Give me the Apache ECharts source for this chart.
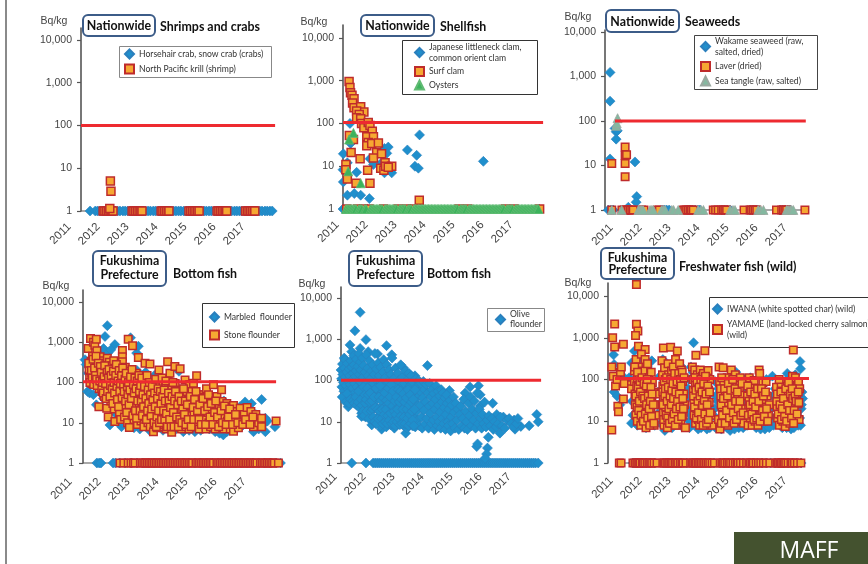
<!DOCTYPE html>
<html><head><meta charset="utf-8">
<style>html,body{margin:0;padding:0;background:#fff}#c{width:868px;height:564px}</style>
<script src="https://cdn.jsdelivr.net/npm/echarts@6/dist/echarts.min.js"></script>
</head><body><div id="c"></div>
<script>
const yearLabels=[2011,2012,2013,2014,2015,2016,2017];
const yTicks=[1,10,100,1000,10000];

// Panel 1
const crabND=[2011.52,2011.7,2011.78,2011.86,2011.95,2012.03,2012.12,2012.2,2012.3,2012.38,2012.47,2012.55,2012.65,2012.73,2012.82,2012.9,2013,2013.08,2013.17,2013.25,2013.35,2013.43,2013.52,2013.6,2013.7,2013.78,2013.87,2013.95,2014.05,2014.13,2014.22,2014.3,2014.4,2014.48,2014.57,2014.65,2014.75,2014.83,2014.92,2015,2015.1,2015.18,2015.27,2015.35,2015.45,2015.53,2015.62,2015.7,2015.8,2015.88,2015.97,2016.05,2016.15,2016.23,2016.32,2016.4,2016.5,2016.58,2016.67,2016.75,2016.85,2016.93,2017.02,2017.1,2017.2,2017.28,2017.37,2017.45,2017.55,2017.63,2017.72,2017.8];
const krill=[[2012.22,5],[2012.24,2.9],[2012.2,1.15]];
const krillND=[2011.97,2012.03,2012.09,2012.15,2012.21,2012.27,2012.31,2012.97,2013.03,2013.09,2013.15,2013.21,2013.27,2013.31,2013.97,2014.03,2014.09,2014.15,2014.21,2014.24,2014.93,2014.99,2015.05,2015.11,2015.17,2015.23,2015.28,2015.9,2015.96,2016.02,2016.08,2016.14,2016.2,2016.23,2016.88,2016.94,2017,2017.06,2017.12,2017.18,2017.2];

// Panel 2
const clam=[[2011.01,19.5],[2011,8.3],[2011.01,4.3],[2011.15,12],[2011.15,2.1],[2011.39,2.3],[2011.61,2.1],[2011.91,1.75],[2011.24,100],[2011.26,34],[2011.47,7.2],[2011.93,15],[2012.05,11],[2012.33,12],[2012.43,7],[2012.43,26],[2012.56,28],[2012.51,20],[2012.68,7],[2013.22,24],[2013.54,18],[2013.48,10],[2013.6,9],[2013.64,54],[2015.84,13]];
const clamND=[2011,2017.76];
const surfClam=[[2011.21,950],[2011.24,690],[2011.26,525],[2011.31,455],[2011.38,380],[2011.33,300],[2011.38,234],[2011.61,245],[2011.72,186],[2011.47,195],[2011.56,162],[2011.47,135],[2011.61,129],[2011.64,100],[2011.72,79],[2011.87,105],[2011.93,89],[2012.01,66],[2011.82,49],[2012.05,49],[2011.87,36],[2011.82,30],[2011.99,34],[2012.22,35],[2012.16,21],[2012.05,15.6],[2012.33,19.5],[2012.3,9],[2012.45,12],[2012.41,8],[2012.47,10],[2012.68,10],[2012.56,9.5],[2011.85,8],[2011.59,15],[2011.28,21],[2011.1,11],[2011.1,8.3],[2011.15,5],[2011.45,4],[2011.93,4],[2011.22,52],[2011.36,42],[2013.63,1.6]];
const surfClamND=[2011.13,2011.5,2011.7,2011.9,2012.4,2012.9,2013.2,2013.4,2015.0,2015.3,2016.6,2016.9,2017.78];
const oysters=[[2011.36,60],[2011.21,42],[2011.18,7.6],[2011.61,4]];
const oystersND=[2011.1,2011.15,2011.2,2011.25,2011.3,2011.35,2011.4,2011.45,2011.55,2011.6,2011.65,2011.75,2011.8,2011.95,2012,2012.05,2012.1,2012.15,2012.2,2012.25,2012.3,2012.35,2012.45,2012.5,2012.55,2012.6,2012.65,2012.7,2012.75,2012.8,2012.85,2012.95,2013,2013.05,2013.1,2013.15,2013.25,2013.3,2013.35,2013.45,2013.5,2013.55,2013.6,2013.65,2013.7,2013.75,2013.8,2013.85,2013.9,2013.95,2014,2014.05,2014.1,2014.15,2014.2,2014.25,2014.3,2014.35,2014.4,2014.45,2014.5,2014.55,2014.6,2014.65,2014.7,2014.75,2014.8,2014.85,2014.9,2014.95,2015.05,2015.1,2015.15,2015.2,2015.25,2015.35,2015.4,2015.45,2015.5,2015.55,2015.6,2015.65,2015.7,2015.75,2015.8,2015.85,2015.9,2015.95,2016,2016.05,2016.1,2016.15,2016.2,2016.25,2016.3,2016.35,2016.4,2016.45,2016.5,2016.55,2016.65,2016.7,2016.75,2016.8,2016.85,2016.95,2017,2017.05,2017.1,2017.15,2017.2,2017.25,2017.3,2017.35,2017.4,2017.45,2017.5,2017.55,2017.6,2017.65,2017.7,2017.74];

// Panel 3
const wakame=[[2010.76,1230],[2010.76,278],[2010.76,14],[2010.93,68],[2010.97,57],[2011.01,60],[2010.97,39],[2011.62,12],[2011.68,2],[2011.66,1.5],[2011.39,1.15]];
const wakameND=[2010.7,2010.8,2010.87,2011.39,2012.54,2012.63,2012.71,2012.8,2013.52,2013.6,2013.7,2013.8,2013.86,2014.61,2014.7,2014.8,2014.9,2015.59,2015.7,2015.8,2015.87,2016.62,2016.7,2016.8,2016.9,2016.97];
const laver=[[2010.82,11],[2011.28,26],[2011.28,17],[2011.33,17.5],[2011.28,11],[2011.28,5.6]];
const laverND=[2010.82,2011.17,2011.25,2011.33,2011.39,2011.45,2011.51,2011.56,2011.85,2011.93,2012.39,2012.46,2013.29,2013.34,2013.4,2013.46,2013.52,2013.57,2013.63,2014.32,2014.4,2014.49,2014.61,2014.67,2014.72,2014.78,2015.38,2015.59,2015.64,2015.7,2015.76,2015.82,2016.5,2016.68,2016.74,2016.79,2016.85,2017.48];
const seaTangle=[[2011.02,115],[2010.97,78],[2010.99,89]];
const seaTangleND=[2010.82,2011.16,2011.74,2011.8,2011.85,2011.9,2012.14,2012.2,2012.25,2012.54,2012.6,2012.66,2012.89,2012.95,2013.11,2013.8,2013.9,2013.98,2014.9,2015,2015.07,2015.87,2015.95,2016.05,2016.85,2016.9,2016.97,2017.02,2017.08];

// Panel 4
const marbled=[[2012.08,2600],[2012,1400],[2012.34,880],[2012.88,1300],[2013.15,800],[2013.09,540],[2011.31,370],[2011.4,60],[2011.47,55],[2011.7,28],[2012.17,8.8],[2012.57,8],[2013.2,7],[2013.55,6.3],[2014.7,6],[2016.08,5],[2016.83,33],[2017.05,30],[2017.4,38],[2017.53,13],[2017.86,8],[2017.53,6],[2017.12,6],[2011.35,280],[2011.42,170],[2011.6,50],[2011.8,600],[2011.95,700],[2012.1,550],[2012.2,650],[2012.45,300],[2011.95,40],[2012,60],[2012.25,30],[2012.4,16],[2012.6,10],[2012.9,9],[2013,7.5],[2013.1,200],[2013.4,180],[2013.85,8],[2014,6.5],[2014.2,7],[2014.4,6.5],[2014.9,6.5],[2015.1,6],[2015.3,6.5],[2015.6,7],[2015.8,6],[2015.95,5.5],[2016.2,6],[2016.5,7],[2016.7,8],[2016.6,14],[2016.95,12],[2017.15,7],[2017.3,7],[2017.45,9],[2017.6,11],[2017.2,16],[2014.55,190],[2013.7,150],[2014.05,120],[2014.8,60],[2015,55],[2015.4,45],[2015.2,30],[2015.55,20],[2016.1,35],[2016.35,20],[2016.65,25],[2017,18],[2017.3,12]];
const marbledND=[2011.72,2011.8,2011.86,2012.28,2012.36,2012.5,2012.7,2012.9,2013.1,2013.3,2013.5,2013.7,2013.9,2014.1,2014.3,2014.5,2014.7,2014.9,2015.1,2015.3,2015.5,2015.7,2015.9,2016.1,2016.3,2016.5,2016.7,2016.9,2017.1,2017.3,2017.5,2017.7,2017.9,2018.05];
const stone=[[2011.42,700],[2011.45,210],[2011.47,130],[2011.5,1250],[2011.52,340],[2011.54,170],[2011.55,95],[2011.57,450],[2011.58,250],[2011.6,1000],[2011.62,140],[2011.63,110],[2011.65,850],[2011.66,280],[2011.68,190],[2011.7,1200],[2011.7,95],[2011.72,620],[2011.74,230],[2011.75,150],[2011.76,120],[2011.79,25],[2011.78,330],[2011.8,70],[2011.8,200],[2011.83,440],[2011.85,160],[2011.86,100],[2011.88,280],[2011.9,60],[2011.9,130],[2011.93,350],[2011.95,210],[2011.96,85],[2011.98,45],[2012,170],[2012,300],[2012.03,120],[2012.03,70],[2012.06,23],[2012.06,230],[2012.08,400],[2012.1,150],[2012.1,95],[2012.11,14],[2012.13,55],[2012.15,320],[2012.16,200],[2012.18,110],[2012.2,35],[2012.2,75],[2012.23,260],[2012.24,160],[2012.26,90],[2012.28,50],[2012.3,350],[2012.3,130],[2012.32,22],[2012.34,10.7],[2012.35,210],[2012.36,75],[2012.38,110],[2012.4,40],[2012.42,170],[2012.44,280],[2012.46,60],[2012.48,90],[2012.5,18],[2012.5,130],[2012.54,12],[2012.55,30],[2012.56,200],[2012.58,80],[2012.6,630],[2012.6,440],[2012.6,330],[2012.62,50],[2012.63,120],[2012.65,170],[2012.67,14],[2012.68,25],[2012.7,240],[2012.72,70],[2012.74,100],[2012.76,40],[2012.78,10],[2012.8,1200],[2012.8,140],[2012.82,60],[2012.84,7.6],[2012.85,190],[2012.87,30],[2012.89,85],[2012.9,18],[2012.92,110],[2012.95,820],[2012.95,50],[2012.97,150],[2013,12],[2013,75],[2013.02,24],[2013.04,100],[2013.06,38],[2013.08,170],[2013.1,60],[2013.12,9],[2013.15,420],[2013.15,16],[2013.16,85],[2013.18,30],[2013.2,120],[2013.22,50],[2013.24,11],[2013.26,70],[2013.28,22],[2013.3,95],[2013.32,40],[2013.34,8],[2013.38,300],[2013.38,60],[2013.4,14],[2013.42,110],[2013.44,28],[2013.46,75],[2013.48,10],[2013.5,45],[2013.52,18],[2013.55,290],[2013.55,90],[2013.56,8],[2013.58,35],[2013.6,60],[2013.62,13],[2013.64,24],[2013.67,6],[2013.68,100],[2013.7,45],[2013.72,9],[2013.74,70],[2013.76,17],[2013.78,30],[2013.8,7.5],[2013.82,55],[2013.84,11],[2013.86,205],[2013.87,85],[2013.9,22],[2013.92,40],[2013.94,8],[2013.96,65],[2013.98,14],[2014,100],[2014,30],[2014.03,9],[2014.05,50],[2014.07,19],[2014.09,75],[2014.11,7],[2014.13,35],[2014.16,330],[2014.16,13],[2014.18,110],[2014.2,25],[2014.22,60],[2014.24,170],[2014.25,9],[2014.27,42],[2014.3,5.8],[2014.3,80],[2014.32,16],[2014.35,30],[2014.37,55],[2014.39,11],[2014.41,250],[2014.42,95],[2014.44,22],[2014.46,8],[2014.48,38],[2014.5,65],[2014.52,13],[2014.54,27],[2014.56,9],[2014.59,220],[2014.6,50],[2014.62,18],[2014.64,7],[2014.66,32],[2014.7,11],[2014.72,48],[2014.76,115],[2014.78,22],[2014.8,8],[2014.82,60],[2014.85,15],[2014.88,36],[2014.9,7],[2014.92,90],[2014.95,26],[2014.98,11],[2015,60],[2015.02,42],[2015.05,96],[2015.07,18],[2015.1,8],[2015.12,30],[2015.16,147],[2015.17,12],[2015.2,50],[2015.22,22],[2015.25,7],[2015.28,50],[2015.3,15],[2015.33,35],[2015.36,9],[2015.4,25],[2015.42,44],[2015.45,12],[2015.48,7],[2015.5,70],[2015.52,30],[2015.55,18],[2015.58,10],[2015.6,40],[2015.64,8],[2015.67,22],[2015.7,13],[2015.74,88],[2015.76,28],[2015.8,7],[2015.83,16],[2015.86,45],[2015.9,10],[2015.94,24],[2015.97,8],[2016.02,66],[2016.03,34],[2016.06,14],[2016.1,7],[2016.14,20],[2016.2,30],[2016.22,11],[2016.27,17],[2016.32,7],[2016.36,25],[2016.43,27],[2016.43,6.2],[2016.48,12],[2016.55,19],[2016.6,7.5],[2016.66,23],[2016.7,11],[2016.8,16],[2016.9,24],[2016.9,10.7],[2017.03,19],[2017.06,11],[2017.12,8],[2017.2,16],[2017.3,10],[2017.4,13],[2017.4,8],[2017.9,11],
[2011.44,300],[2011.48,100],[2011.53,200],[2011.56,130],[2011.59,380],[2011.61,90],[2011.64,230],[2011.67,150],[2011.69,450],[2011.71,120],[2011.73,85],[2011.77,300],[2011.82,110],[2011.84,250],[2011.87,180],[2011.89,70],[2011.91,100],[2011.94,55],[2011.97,140],[2011.99,260],[2012.02,95],[2012.04,40],[2012.07,180],[2012.09,60],[2012.12,130],[2012.14,210],[2012.17,45],[2012.19,85],[2012.21,150],[2012.25,70],[2012.27,30],[2012.29,190],[2012.31,100],[2012.33,55],[2012.37,150],[2012.39,280],[2012.41,80],[2012.43,38],[2012.45,110],[2012.47,25],[2012.49,200],[2012.51,60],[2012.53,95],[2012.57,150],[2012.59,42],[2012.61,230],[2012.64,85],[2012.66,60],[2012.69,120],[2012.71,35],[2012.73,170],[2012.75,18],[2012.77,80],[2012.79,50],[2012.81,100],[2012.83,28],[2012.86,65],[2012.88,140],[2012.91,40],[2012.93,210],[2012.96,15],[2012.98,90],[2013.01,55],[2013.03,130],[2013.05,20],[2013.07,70],[2013.09,13],[2013.11,110],[2013.13,35],[2013.17,150],[2013.19,60],[2013.21,20],[2013.23,85],[2013.25,35],[2013.27,130],[2013.29,15],[2013.31,50],[2013.33,25],[2013.36,80],[2013.41,40],[2013.43,12],[2013.45,150],[2013.47,20],[2013.49,65],[2013.51,30],[2013.53,100],[2013.57,50],[2013.59,15],[2013.61,22],[2013.63,80],[2013.65,38],[2013.69,10],[2013.71,55],[2013.73,25],[2013.75,120],[2013.77,8],[2013.79,14],[2013.81,40],[2013.83,70],[2013.85,20],[2013.88,10],[2013.91,60],[2013.93,30],[2013.95,12],[2013.97,130],[2013.99,45],[2014.02,20],[2014.04,65],[2014.06,12],[2014.08,35],[2014.1,110],[2014.12,17],[2014.15,8],[2014.19,55],[2014.21,35],[2014.23,12],[2014.26,24],[2014.28,8],[2014.31,45],[2014.34,100],[2014.36,18],[2014.38,8],[2014.4,35],[2014.43,60],[2014.47,14],[2014.51,28],[2014.53,8],[2014.55,45],[2014.58,12],[2014.63,35],[2014.65,10],[2014.68,22],[2014.71,70],[2014.74,16],[2014.77,35],[2014.79,9],[2014.84,28],[2014.87,12],[2014.94,45],[2014.97,8],[2015.04,24],[2015.06,12],[2015.09,38],[2015.14,60],[2015.19,20],[2015.24,12],[2015.27,28],[2015.32,9],[2015.38,40],[2015.44,20],[2015.47,9],[2015.54,25],[2015.57,50],[2015.62,14],[2015.66,30],[2015.72,9],[2015.78,18],[2015.82,35],[2015.88,14],[2015.92,8],[2016,20],[2016.05,10],[2016.12,26],[2016.18,9],[2016.25,14],[2016.3,22],[2016.4,9],[2016.5,16],[2016.58,10],[2016.75,9],[2016.85,12],[2017,9],[2017.1,14]];
const stoneND=[2012.52,2012.65,2012.8,2012.9,2012.98,2013.04,2013.22,2013.28,2013.34,2013.4,2013.46,2013.52,2013.58,2013.64,2013.7,2013.76,2013.82,2013.88,2013.94,2014,2014.06,2014.12,2014.18,2014.24,2014.3,2014.36,2014.42,2014.48,2014.54,2014.6,2014.66,2014.72,2014.78,2014.84,2014.9,2014.96,2015.02,2015.14,2015.2,2015.26,2015.32,2015.38,2015.44,2015.5,2015.56,2015.62,2015.68,2015.74,2015.86,2015.92,2015.98,2016.04,2016.1,2016.16,2016.22,2016.28,2016.34,2016.4,2016.46,2016.52,2016.58,2016.64,2016.7,2016.76,2016.82,2016.88,2016.94,2017,2017.06,2017.12,2017.18,2017.24,2017.36,2017.42,2017.48,2017.54,2017.6,2017.66,2017.72,2017.78,2017.84,2017.98];

// Panel 5
const olive=[[2011.66,4500],[2011.48,1600],[2011.31,730],[2011.86,980],[2012.57,700],[2013.98,230],[2011.11,350],[2012.26,440],[2011.94,500],[2011.37,500],[2012.75,420],[2011.66,600],[2013.15,205],[2013.55,130],[2014.74,57],[2015.28,50],[2015.45,70],[2015.74,75],[2015.8,45],[2015.8,24],[2016.23,28],[2016.37,15],[2016.6,13],[2016.97,11],[2017.49,8],[2017.75,15],[2017.8,10],[2017.2,7.7],[2017,6.6],[2016.48,5.3],[2015.68,2.5],[2015.71,2.9],[2016.05,2.3],[2016.02,1.65],[2015.97,1.3],[2016.08,4.2],[2013.23,5.3],[2011.25,23],[2011.71,13.5],[2012.06,8.4],[2012.4,6.6],
[2011,180],[2011.02,110],[2011.03,70],[2011.05,250],[2011.06,140],[2011.08,90],[2011.1,55],[2011.12,200],[2011.14,320],[2011.15,120],[2011.17,75],[2011.18,40],[2011.2,160],[2011.22,260],[2011.23,100],[2011.25,60],[2011.26,35],[2011.28,190],[2011.3,130],[2011.32,80],[2011.34,300],[2011.35,45],[2011.37,210],[2011.39,105],[2011.4,65],[2011.42,150],[2011.44,400],[2011.45,240],[2011.47,85],[2011.48,50],[2011.5,125],[2011.52,170],[2011.53,330],[2011.55,70],[2011.57,38],[2011.58,220],[2011.6,100],[2011.62,450],[2011.63,140],[2011.65,60],[2011.67,280],[2011.68,180],[2011.7,90],[2011.71,16],[2011.73,45],[2011.74,350],[2011.76,120],[2011.78,230],[2011.8,70],[2011.81,30],[2011.83,160],[2011.85,13],[2011.86,95],[2011.88,420],[2011.9,50],[2011.92,200],[2011.93,130],[2011.95,22],[2011.97,75],[2011.98,300],[2012,12],[2012.02,110],[2012.03,40],[2012.05,170],[2012.07,60],[2012.08,11],[2012.1,240],[2012.12,85],[2012.13,26],[2012.15,140],[2012.17,450],[2012.18,50],[2012.2,9],[2012.22,190],[2012.24,100],[2012.25,35],[2012.27,70],[2012.29,270],[2012.3,14],[2012.32,130],[2012.34,45],[2012.36,8],[2012.37,210],[2012.39,90],[2012.41,24],[2012.43,55],[2012.45,160],[2012.47,320],[2012.48,10],[2012.5,75],[2012.52,30],[2012.54,120],[2012.56,7.5],[2012.58,240],[2012.6,45],[2012.62,95],[2012.64,17],[2012.66,180],[2012.68,60],[2012.7,8.5],[2012.72,140],[2012.74,35],[2012.76,350],[2012.78,80],[2012.8,22],[2012.82,110],[2012.84,7],[2012.86,50],[2012.88,200],[2012.9,13],[2012.92,70],[2012.94,30],[2012.96,150],[2012.98,9],[2013,100],[2013.02,42],[2013.04,19],[2013.06,240],[2013.08,65],[2013.1,11],[2013.12,120],[2013.14,28],[2013.16,8],[2013.18,85],[2013.2,48],[2013.22,170],[2013.24,15],[2013.26,60],[2013.28,7],[2013.3,105],[2013.32,33],[2013.34,150],[2013.36,10],[2013.38,75],[2013.4,22],[2013.42,130],[2013.44,45],[2013.46,8],[2013.48,90],[2013.5,14],[2013.52,55],[2013.54,30],[2013.56,7.5],[2013.58,110],[2013.6,70],[2013.62,18],[2013.64,11],[2013.66,40],[2013.68,100],[2013.7,8],[2013.72,55],[2013.74,25],[2013.76,85],[2013.78,13],[2013.8,7],[2013.82,38],[2013.84,95],[2013.86,19],[2013.88,60],[2013.9,9],[2013.92,30],[2013.94,80],[2013.96,12],[2014,50],[2014.02,7],[2014.04,24],[2014.06,85],[2014.08,16],[2014.1,40],[2014.12,9],[2014.14,60],[2014.16,28],[2014.18,11],[2014.2,48],[2014.22,6.5],[2014.24,20],[2014.26,35],[2014.28,75],[2014.3,13],[2014.32,8],[2014.34,55],[2014.36,25],[2014.38,10],[2014.4,42],[2014.42,17],[2014.44,7],[2014.46,60],[2014.48,30],[2014.5,12],[2014.52,50],[2014.54,9],[2014.56,22],[2014.58,38],[2014.6,6.5],[2014.62,15],[2014.64,45],[2014.66,28],[2014.68,10],[2014.7,8],[2014.72,20],[2014.76,33],[2014.78,6],[2014.8,13],[2014.82,25],[2014.85,9],[2014.88,40],[2014.9,17],[2014.93,7],[2014.96,28],[2015,11],[2015.03,20],[2015.06,6.5],[2015.1,15],[2015.13,24],[2015.16,8],[2015.2,12],[2015.23,35],[2015.26,7],[2015.3,18],[2015.33,10],[2015.36,6.5],[2015.4,28],[2015.43,14],[2015.47,40],[2015.5,8],[2015.53,20],[2015.57,11],[2015.6,32],[2015.64,7],[2015.67,16],[2015.7,50],[2015.73,9],[2015.77,20],[2015.82,12],[2015.85,7],[2015.88,15],[2015.92,9],[2015.95,30],[2016,7.5],[2016.04,11],[2016.1,14],[2016.15,8],[2016.2,12],[2016.25,6.5],[2016.3,10],[2016.35,7.5],[2016.42,9],[2016.5,13],[2016.55,8],[2016.65,7],[2016.72,11],[2016.8,12],[2016.87,9],[2016.95,7.5],[2017.05,9],[2017.1,12],
[2011.04,40],[2011.16,30],[2011.21,48],[2011.27,28],[2011.33,35],[2011.41,32],[2011.46,28],[2011.51,40],[2011.54,25],[2011.59,30],[2011.61,55],[2011.64,22],[2011.69,35],[2011.72,25],[2011.75,18],[2011.77,70],[2011.79,14],[2011.82,45],[2011.84,28],[2011.87,35],[2011.89,18],[2011.91,65],[2011.94,45],[2011.96,12],[2011.99,30],[2012.01,50],[2012.04,18],[2012.06,32],[2012.09,20],[2012.11,13],[2012.14,40],[2012.16,10],[2012.19,22],[2012.21,65],[2012.23,9],[2012.26,20],[2012.28,12],[2012.31,40],[2012.33,18],[2012.35,75],[2012.38,33],[2012.4,12],[2012.42,20],[2012.44,9],[2012.46,38],[2012.49,15],[2012.51,50],[2012.53,10],[2012.55,20],[2012.57,33],[2012.59,9],[2012.61,14],[2012.63,65],[2012.65,28],[2012.67,11],[2012.69,40],[2012.71,16],[2012.73,80],[2012.75,9],[2012.77,24],[2012.79,55],[2012.81,10],[2012.83,18],[2012.85,32],[2012.87,8],[2012.89,15],[2012.91,40],[2012.93,10],[2012.95,20],[2012.97,60],[2012.99,12],[2013.01,30],[2013.03,8.5],[2013.05,55],[2013.07,14],[2013.09,35],[2013.11,9],[2013.13,20],[2013.15,48],[2013.17,13],[2013.19,30],[2013.21,9],[2013.25,38],[2013.27,20],[2013.29,12],[2013.31,60],[2013.33,8],[2013.35,25],[2013.37,15],[2013.39,45],[2013.41,9],[2013.43,30],[2013.45,18],[2013.47,11],[2013.49,35],[2013.51,8],[2013.53,20],[2013.55,60]];
const oliveND=[2011.37,2011.86,2012.11,2012.18,2012.25,2012.32,2012.39,2012.46,2012.53,2012.6,2012.67,2012.74,2012.81,2012.88,2012.95,2013.02,2013.09,2013.16,2013.23,2013.3,2013.37,2013.44,2013.51,2013.58,2013.65,2013.72,2013.79,2013.86,2013.93,2014,2014.07,2014.14,2014.21,2014.28,2014.35,2014.42,2014.49,2014.56,2014.63,2014.7,2014.77,2014.84,2014.91,2014.98,2015.05,2015.12,2015.19,2015.26,2015.33,2015.4,2015.47,2015.54,2015.61,2015.68,2015.75,2015.82,2015.89,2015.96,2016.03,2016.1,2016.17,2016.24,2016.31,2016.38,2016.45,2016.52,2016.59,2016.66,2016.73,2016.8,2016.87,2016.94,2017.01,2017.08,2017.15,2017.22,2017.29,2017.36,2017.43,2017.5,2017.57,2017.64,2017.71,2017.8];

// Panel 6
const iwana=[[2013.64,760],[2011.6,480],[2010.88,390],[2017.31,270],[2017.33,180],[2016.87,140],[2012.58,300],[2012.2,280],[2011.5,250],[2010.9,230],[2011.05,120],[2010.9,50],[2011,40],[2011.1,25],[2011.25,110],[2011.42,110],[2011.5,9],[2011.7,8],[2012,7],[2012.3,8],[2012.65,6],[2012.9,7],[2013.2,8],[2013.5,7],[2013.8,6.5],[2014.1,6.5],[2014.4,7],[2014.6,6.5],[2014.9,6],[2015.2,7],[2015.5,8],[2015.8,7],[2016.1,6.5],[2016.4,8],[2016.7,7],[2017,6.5],[2017.25,8],[2012.4,15],[2012.42,50],[2012.48,120],[2013.42,20],[2013.45,60],[2013.48,100],[2014.42,12],[2014.4,40],[2014.38,90],[2015.42,15],[2015.44,50],[2015.4,100],[2016.36,12],[2016.38,40],[2016.36,120],[2017.35,20],[2017.38,50],[2017.36,25],[2013.55,200],[2014.85,110],[2015.1,150],[2015.6,110],[2016.15,100],[2016.92,110],[2017.15,130],[2012.75,200],[2013,170],[2013.2,210],[2013.62,150],[2014,130],[2012.05,200],[2011.95,150],[2011.75,300],
[2011.52,30],[2011.55,14],[2011.58,70],[2012.45,25],[2012.5,9],[2012.55,9],[2012.56,40],[2013.44,35],[2013.5,10],[2013.52,40],[2013.55,14],[2014.37,20],[2014.45,8],[2014.47,30],[2014.5,60],[2015.38,25],[2015.45,8],[2015.48,30],[2016.32,20],[2016.42,22],[2016.45,60],[2016.44,12],[2017.3,12],[2017.33,8],[2017.4,35],[2013.9,7],[2014.2,7],[2014.8,7],[2015.05,6.5],[2015.35,7],[2015.95,6.5],[2016.25,7],[2016.85,7],[2017.1,7]];
const iwanaND=[2011.55,2011.62,2011.7,2011.85,2012,2012.15,2012.3,2012.6,2012.75,2012.9,2013.05,2013.2,2013.4,2013.6,2013.75,2013.9,2014.05,2014.2,2014.35,2014.55,2014.7,2014.85,2015,2015.2,2015.35,2015.55,2015.7,2015.85,2016,2016.15,2016.3,2016.45,2016.6,2016.75,2016.9,2017.05,2017.2,2017.35];
const yamame=[[2011.67,19000],[2010.92,2140],[2011.67,2100],[2011.72,1450],[2011.64,1130],[2010.85,1000],[2010.92,600],[2011.22,700],[2011.74,630],[2011.97,520],[2012.6,570],[2012.85,590],[2013.08,480],[2014.03,490],[2013.72,380],[2017.08,510],[2010.82,6.2],[2010.82,200],[2010.87,120],[2010.95,70],[2011,100],[2011.03,23],[2011.05,17],[2011.12,150],[2011.15,200],[2011.22,34],[2011.25,80],[2011.5,75],[2011.5,60],[2011.6,90],[2011.6,160],[2011.62,45],[2011.63,25],[2011.65,14],[2011.66,300],[2011.68,70],[2011.7,110],[2011.7,10],[2011.72,38],[2011.74,200],[2011.76,130],[2011.78,55],[2011.8,20],[2011.82,8],[2011.84,400],[2011.85,85],[2011.87,33],[2011.88,12],[2011.9,160],[2011.92,60],[2011.94,24],[2011.96,100],[2011.97,300],[2012,45],[2012,7],[2012.03,16],[2012.05,240],[2012.07,75],[2012.09,28],[2012.1,110],[2012.12,9],[2012.14,55],[2012.16,18],[2012.18,150],[2012.2,38],[2012.22,85],[2012.24,12],[2012.26,50],[2012.28,8],[2012.3,25],[2012.33,14],[2012.35,45],[2012.55,280],[2012.57,130],[2012.58,70],[2012.6,35],[2012.6,16],[2012.62,8],[2012.64,190],[2012.66,100],[2012.68,22],[2012.7,11],[2012.72,55],[2012.74,7],[2012.76,240],[2012.78,130],[2012.8,30],[2012.82,75],[2012.84,14],[2012.86,9],[2012.88,160],[2012.9,45],[2012.92,20],[2012.94,200],[2012.96,100],[2012.98,60],[2013,12],[2013.02,300],[2013.04,28],[2013.06,8],[2013.08,120],[2013.1,40],[2013.12,75],[2013.14,17],[2013.16,240],[2013.18,55],[2013.2,10],[2013.22,170],[2013.24,30],[2013.26,90],[2013.28,14],[2013.3,45],[2013.33,25],[2013.36,7],[2013.6,200],[2013.62,100],[2013.63,55],[2013.65,30],[2013.66,14],[2013.68,170],[2013.7,75],[2013.71,9],[2013.73,40],[2013.75,20],[2013.77,130],[2013.78,60],[2013.8,11],[2013.82,100],[2013.84,27],[2013.85,8],[2013.87,170],[2013.88,45],[2013.9,70],[2013.92,18],[2013.94,120],[2013.96,35],[2013.98,140],[2014,9],[2014.02,60],[2014.04,22],[2014.06,85],[2014.08,12],[2014.1,40],[2014.12,8],[2014.14,165],[2014.16,55],[2014.18,28],[2014.2,100],[2014.25,14],[2014.28,8],[2014.5,11],[2014.52,200],[2014.54,85],[2014.55,6.5],[2014.58,40],[2014.6,9],[2014.62,22],[2014.66,190],[2014.68,75],[2014.7,14],[2014.74,50],[2014.76,28],[2014.8,110],[2014.82,8],[2014.86,35],[2014.9,17],[2014.94,170],[2014.96,70],[2014.98,10],[2015.02,45],[2015.05,24],[2015.08,130],[2015.1,14],[2015.13,80],[2015.16,35],[2015.2,10],[2015.22,60],[2015.25,110],[2015.3,20],[2015.33,42],[2015.36,9],[2015.5,40],[2015.52,8],[2015.54,20],[2015.56,110],[2015.58,65],[2015.6,12],[2015.63,30],[2015.66,8],[2015.68,50],[2015.7,18],[2015.73,95],[2015.76,10],[2015.8,40],[2015.83,25],[2015.86,8],[2015.9,170],[2015.92,140],[2015.94,50],[2015.96,14],[2016,30],[2016.03,85],[2016.06,10],[2016.1,22],[2016.14,90],[2016.18,40],[2016.22,14],[2016.25,25],[2016.5,65],[2016.52,22],[2016.54,12],[2016.57,38],[2016.6,8],[2016.63,15],[2016.66,80],[2016.68,30],[2016.72,10],[2016.76,50],[2016.8,7.5],[2016.83,20],[2016.87,70],[2016.9,40],[2016.93,13],[2016.96,9],[2017,90],[2017.03,30],[2017.05,120],[2017.07,17],[2017.1,60],[2017.12,25],[2017.15,110],[2017.17,11],[2017.2,45],[2017.22,70],[2017.24,26],[2017.26,85],[2017.28,11],[2017.3,60],
[2011.61,200],[2011.65,40],[2011.69,22],[2011.71,150],[2011.73,65],[2011.75,18],[2011.77,30],[2011.79,90],[2011.81,50],[2011.83,14],[2011.86,110],[2011.89,40],[2011.91,10],[2011.93,80],[2011.95,35],[2011.98,15],[2012.01,70],[2012.02,25],[2012.04,100],[2012.06,12],[2012.08,40],[2012.11,20],[2012.13,8],[2012.15,30],[2012.17,65],[2012.19,13],[2012.21,45],[2012.25,25],[2012.27,9],[2012.58,50],[2012.59,25],[2012.61,11],[2012.63,90],[2012.65,40],[2012.67,60],[2012.69,14],[2012.71,110],[2012.73,30],[2012.75,12],[2012.77,65],[2012.79,20],[2012.81,9],[2012.83,40],[2012.85,100],[2012.87,25],[2012.89,55],[2012.91,11],[2012.93,80],[2012.95,35],[2012.97,15],[2012.99,140],[2013.01,8],[2013.03,50],[2013.05,20],[2013.07,90],[2013.09,30],[2013.11,11],[2013.13,140],[2013.15,45],[2013.17,22],[2013.19,100],[2013.21,70],[2013.23,13],[2013.25,150],[2013.27,35],[2013.29,20],[2013.31,110],[2013.64,40],[2013.67,22],[2013.69,110],[2013.72,55],[2013.74,12],[2013.76,90],[2013.79,30],[2013.81,16],[2013.83,65],[2013.86,40],[2013.89,100],[2013.91,11],[2013.93,50],[2013.95,24],[2013.97,8],[2013.99,80],[2014.01,32],[2014.03,15],[2014.05,120],[2014.07,45],[2014.09,9],[2014.11,25],[2014.13,70],[2014.15,11],[2014.19,50],[2014.21,16],[2014.57,60],[2014.59,25],[2014.61,110],[2014.64,14],[2014.67,35],[2014.71,60],[2014.73,9],[2014.78,18],[2014.81,40],[2014.84,80],[2014.88,12],[2014.92,55],[2014.95,25],[2014.99,100],[2015.01,16],[2015.04,9],[2015.07,60],[2015.09,30],[2015.12,11],[2015.15,50],[2015.18,20],[2015.24,30],[2015.27,14],[2015.31,80],[2015.35,16],[2015.51,70],[2015.53,14],[2015.55,30],[2015.59,25],[2015.61,50],[2015.65,15],[2015.69,30],[2015.72,11],[2015.75,45],[2015.78,22],[2015.82,12],[2015.85,60],[2015.89,30],[2015.93,10],[2015.98,60],[2016.02,18],[2016.05,40],[2016.08,13],[2016.12,50],[2016.16,20],[2016.2,10],[2016.51,30],[2016.53,45],[2016.56,15],[2016.59,100],[2016.62,25],[2016.65,50],[2016.67,11],[2016.7,20],[2016.74,35],[2016.78,13],[2016.82,60],[2016.85,10],[2016.89,25],[2016.92,85],[2016.95,18],[2016.98,45],[2017.02,12],[2017.04,60],[2017.06,35],[2017.09,9],[2017.11,18],[2017.14,40],[2017.18,30],[2017.21,15],[2017.25,50],[2017.27,28]];
const yamameND=[2011.08,2011.14,2011.55,2011.62,2011.68,2011.72,2011.78,2011.8,2011.88,2011.9,2011.96,2012.04,2012.1,2012.16,2012.2,2012.28,2012.38,2012.58,2012.62,2012.66,2012.72,2012.78,2012.82,2012.88,2012.92,2013,2013.06,2013.1,2013.18,2013.24,2013.28,2013.38,2013.54,2013.59,2013.64,2013.69,2013.74,2013.8,2013.85,2013.9,2013.96,2014.02,2014.08,2014.14,2014.2,2014.28,2014.36,2014.56,2014.62,2014.67,2014.72,2014.8,2014.86,2014.92,2015,2015.08,2015.14,2015.18,2015.26,2015.36,2015.47,2015.55,2015.6,2015.66,2015.7,2015.8,2015.88,2015.96,2016.05,2016.15,2016.27,2016.47,2016.52,2016.57,2016.62,2016.67,2016.72,2016.77,2016.82,2016.9,2017,2017.05,2017.12,2017.22,2017.34];

const limits=[100,105,100,105,102,105];
const baselineEnds=[2017.8,2017.76,2017.48,2017.95,2017.8,2017.35];

const C={blue:'#1f8fcc',blueB:'#2a7fbd',orange:'#f6a832',red:'#bf2b2b',green:'#3cb35c',gray:'#84b8a0'};
const stBlue={symbol:'diamond',fill:C.blue,stroke:C.blueB,bw:.6};
const stOrange={symbol:'rect',fill:C.orange,stroke:C.red,bw:1.5};
const stGreen={symbol:'triangle',fill:C.green,stroke:'#62bb74',bw:.8};
const stTangle={symbol:'triangle',fill:C.gray,stroke:'#9aa8a0',bw:.8};
const nd=xs=>xs.map(x=>[x,1]);

const panels=[
 {x0:75,axis:81,y1:211,top:28,max:19000,m:12,sz:[10,8,9],
  series:[['Horsehair crab, snow crab (crabs)',nd(crabND),stBlue],['North Pacific krill (shrimp)',nd(krillND).concat(krill),stOrange]],
  box:{left:119,top:46,w:152,h:31,color:'#888'},lg:{left:124,top:48.5,gap:4,lh:11}},
 {x0:343,axis:343,y1:209,top:25,max:20000,m:12,sz:[10,8,9],
  series:[['Japanese littleneck clam,\ncommon orient clam',nd(clamND).concat(clam),stBlue],['Surf clam',nd(surfClamND).concat(surfClam),stOrange],['Oysters',nd(oystersND).concat(oysters),stGreen]],
  box:{left:402,top:40,w:135,h:54,color:'#333'},lg:{left:414,top:41.5,gap:2.5,lh:11}},
 {x0:617,axis:605,y1:210,top:30,max:11000,m:14,sz:[10,7.5,9],
  series:[['Wakame seaweed (raw,\nsalted, dried)',wakame.concat(nd(wakameND)),stBlue],['Laver (dried)',laver.concat(nd(laverND)),stOrange],['Sea tangle (raw, salted)',seaTangle.concat(nd(seaTangleND)),stTangle]],
  box:{left:694,top:35,w:123,h:54,color:'#444'},lg:{left:700,top:35.5,gap:3.5,lh:11}},
 {x0:76,axis:83,y1:463,top:290,max:20000,m:15,sz:[10,7.5,9],
  series:[['Marbled  flounder',nd(marbledND).concat(marbled),stBlue],['Stone flounder',nd(stoneND).concat(stone),stOrange]],
  box:{left:202,top:303,w:92,h:44,color:'#333'},lg:{left:209,top:311.5,gap:7,lh:11}},
 {x0:341,axis:341,y1:463,top:287,max:18500,m:10,sz:[10,7.5,9],
  series:[['Olive\nflounder',nd(oliveND).concat(olive),stBlue]],
  box:{left:487,top:308,w:57,h:23,color:'#888'},lg:{left:495,top:309.5,gap:4,lh:10}},
 {x0:617,axis:608,y1:463,top:283,max:20500,m:14,sz:[10,7.5,9],
  series:[['IWANA (white spotted char) (wild)',nd(iwanaND).concat(iwana),stBlue],['YAMAME (land-locked cherry salmon)\n(wild)',nd(yamameND).concat(yamame),stOrange]],
  box:{left:709,top:297,w:170,h:50,color:'#333'},lg:{left:712,top:303.5,gap:4,lh:11}}
];

const grid=[],xAxis=[],yAxis=[],series=[],legend=[];
panels.forEach((p,i)=>{
 grid.push({left:p.x0,width:203,top:p.top,height:p.y1-p.top});
 xAxis.push({gridIndex:i,type:'value',min:2011,max:2018,interval:1,axisLine:{show:false},axisTick:{show:false},splitLine:{show:false},
  axisLabel:{showMaxLabel:false,rotate:45,margin:p.m-3.6,padding:[0,8,0,0],color:'#444',fontSize:11.5,fontFamily:'Liberation Sans',formatter:v=>yearLabels.includes(v)?String(v):''}});
 yAxis.push({gridIndex:i,type:'log',logBase:10,min:1,max:p.max,offset:p.x0-p.axis,splitLine:{show:false},
  axisLine:{show:true,onZero:false,lineStyle:{color:'#555',width:1.6}},
  axisTick:{show:true,length:4,lineStyle:{color:'#555',width:1.2},customValues:yTicks},
  axisLabel:{margin:9,color:'#444',fontSize:10.5,fontFamily:'Liberation Sans',customValues:yTicks,formatter:v=>Number(v).toLocaleString('en-US')}});
 const xs=2011+(p.axis-p.x0)/29;
 series.push({name:'base'+i,type:'line',xAxisIndex:i,yAxisIndex:i,symbol:'none',silent:true,z:1,clip:false,lineStyle:{color:'#555',width:1.2},data:[[xs,1],[baselineEnds[i],1]]});
 p.series.forEach(([name,data,st])=>{
  const size=st.symbol==='diamond'?p.sz[0]:st.symbol==='rect'?p.sz[1]:p.sz[2];
  series.push({name,type:'scatter',xAxisIndex:i,yAxisIndex:i,symbol:st.symbol,symbolSize:size,clip:false,large:false,z:2,data,
   itemStyle:{color:st.fill,borderColor:st.stroke,borderWidth:st.bw,opacity:1}});
 });
 series.push({name:'limit'+i,type:'line',xAxisIndex:i,yAxisIndex:i,symbol:'none',silent:true,z:5,clip:false,lineStyle:{color:'#ee2a30',width:3},data:[[xs,limits[i]],[i===2?2017.51:i===5?2017.62:2017.9,limits[i]]]});
 legend.push({show:true,left:p.lg.left,top:p.lg.top,orient:'vertical',selectedMode:false,data:p.series.map(s=>s[0]),
  itemWidth:9,itemHeight:9,itemGap:p.lg.gap,padding:0,
  textStyle:{fontFamily:'Lato',fontSize:8.6,color:'#333',lineHeight:p.lg.lh},z:6});
});

// panel decorations
const boxes=[
 {b:[83,15,72,21],t:['Nationwide'],cy:[26],title:'Shrimps and crabs',tx:160,ty:27},
 {b:[361,15,73,21],t:['Nationwide'],cy:[26],title:'Shellfish',tx:440,ty:27},
 {b:[606,10,73,22],t:['Nationwide'],cy:[22],title:'Seaweeds',tx:685,ty:22},
 {b:[93,251,73,35],t:['Fukushima','Prefecture'],cy:[261,275],title:'Bottom fish',tx:173,ty:274},
 {b:[349,251,73,35],t:['Fukushima','Prefecture'],cy:[261,275],title:'Bottom fish',tx:427,ty:274},
 {b:[601,248,73,31],t:['Fukushima','Prefecture'],cy:[258,270],title:'Freshwater fish (wild)',tx:679,ty:267}
];
const unitPos=[[54,21],[314,22],[578,17],[56,286],[312,284],[578,283]];
const g=[];
const F='bold 12.4px Lato';
boxes.forEach(o=>{
 g.push({type:'rect',shape:{x:o.b[0],y:o.b[1],width:o.b[2],height:o.b[3],r:5},style:{fill:'#fff',stroke:'#3c5c88',lineWidth:2},z:10});
 o.t.forEach((s,i)=>g.push({type:'text',z:11,style:{text:s,x:o.b[0]+o.b[2]/2,y:o.cy[i],font:F,fill:'#111',align:'center',verticalAlign:'middle'}}));
 g.push({type:'text',z:11,style:{text:o.title,x:o.tx,y:o.ty,font:F,fill:'#111',align:'left',verticalAlign:'middle'}});
});
unitPos.forEach(u=>g.push({type:'text',z:11,style:{text:'Bq/kg',x:u[0],y:u[1],font:'10.5px "Liberation Sans"',fill:'#444',align:'center',verticalAlign:'middle'}}));
panels.forEach(p=>g.push({type:'rect',z:0,shape:{x:p.box.left+.5,y:p.box.top+.5,width:p.box.w,height:p.box.h},style:{fill:'#fff',stroke:p.box.color,lineWidth:1}}));
g.push({type:'rect',z:0,shape:{x:5,y:0,width:2,height:564},style:{fill:'#8a8a8a'}});
g.push({type:'rect',z:0,shape:{x:734,y:532,width:134,height:32},style:{fill:'#44522f'}});
g.push({type:'text',z:11,style:{text:'MAFF',x:809,y:551,font:'23px "Open Sans"',fill:'#fff',align:'center',verticalAlign:'middle'}});

const chart=echarts.init(document.getElementById('c'),null,{renderer:'canvas'});
chart.setOption({animation:false,backgroundColor:'#fff',grid,xAxis,yAxis,series,legend,graphic:{elements:g}});
</script></body></html>
